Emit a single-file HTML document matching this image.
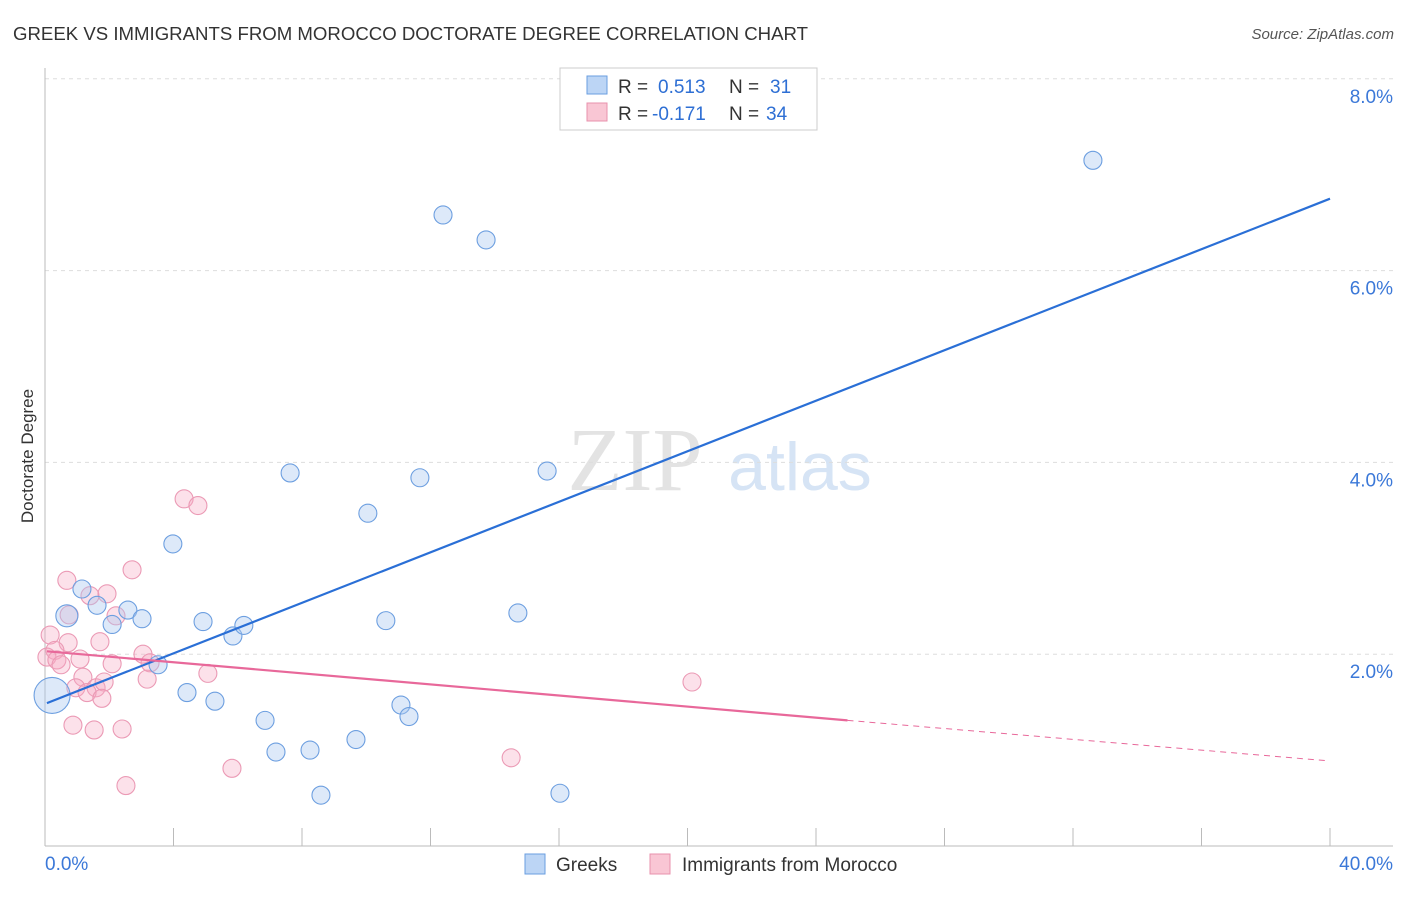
<!DOCTYPE html>
<html><head><meta charset="utf-8"><style>
body{margin:0;background:#fff;font-family:"Liberation Sans",sans-serif;}
</style></head><body>
<svg width="1406" height="892" xmlns="http://www.w3.org/2000/svg" font-family="Liberation Sans, sans-serif">
<text x="13" y="40" font-size="18" fill="#333" textLength="795" lengthAdjust="spacingAndGlyphs">GREEK VS IMMIGRANTS FROM MOROCCO DOCTORATE DEGREE CORRELATION CHART</text>
<text x="1394" y="39" font-size="15" fill="#555" text-anchor="end" font-style="italic">Source: ZipAtlas.com</text>
<g>
<text x="635" y="490" font-size="90" font-family="Liberation Serif, serif" fill="#e3e3e3" text-anchor="middle">ZIP</text>
<text x="800" y="490" font-size="68" fill="#d6e4f5" text-anchor="middle">atlas</text>
</g>
<g id="grid"></g>
<g id="axes"></g>
<text transform="translate(33,456) rotate(-90)" font-size="17" fill="#333" text-anchor="middle">Doctorate Degree</text>
<g id="marks"></g>
<g>
<rect x="560" y="68" width="257" height="62" fill="#fff" stroke="#ccc"/>
<rect x="587" y="76" width="20" height="18" fill="#bcd5f5" stroke="#6a9ee0"/>
<rect x="587" y="103" width="20" height="18" fill="#f9c6d4" stroke="#e891ad"/>
<text x="618" y="93" font-size="19" fill="#333">R =</text>
<text x="658" y="93" font-size="19" fill="#2e6fd4">0.513</text>
<text x="729" y="93" font-size="19" fill="#333">N =</text>
<text x="770" y="93" font-size="19" fill="#2e6fd4">31</text>
<text x="618" y="120" font-size="19" fill="#333">R =</text>
<text x="652" y="120" font-size="19" fill="#2e6fd4">-0.171</text>
<text x="729" y="120" font-size="19" fill="#333">N =</text>
<text x="766" y="120" font-size="19" fill="#2e6fd4">34</text>
</g>
<g>
<rect x="525" y="854" width="20" height="20" fill="#bcd5f5" stroke="#6a9ee0"/>
<text x="556" y="871" font-size="19" fill="#333">Greeks</text>
<rect x="650" y="854" width="20" height="20" fill="#f9c6d4" stroke="#e891ad"/>
<text x="682" y="871" font-size="19" fill="#333">Immigrants from Morocco</text>
</g>
</svg>
<script>
const yTicks=[2,4,6,8];
const yTickLabels=["2.0%","4.0%","6.0%","8.0%"];
const xTicks=[0,4,8,12,16,20,24,28,32,36,40];
const greekX=[32.62,12.39,13.73,15.63,11.67,7.63,10.05,3.98,1.15,0.68,1.62,2.58,2.09,3.02,4.92,5.85,6.19,10.61,14.72,3.52,4.42,5.29,6.85,11.08,11.33,7.19,8.25,9.68,8.59,16.03,0.22];
const greekY=[7.15,6.58,6.32,3.91,3.84,3.89,3.47,3.15,2.68,2.40,2.51,2.46,2.31,2.37,2.34,2.19,2.30,2.35,2.43,1.89,1.60,1.51,1.31,1.47,1.35,0.98,1.00,1.11,0.53,0.55,1.57];
const greekR=[9,9,9,9,9,9,9,9,9,11,9,9,9,9,9,9,9,9,9,9,9,9,9,9,9,9,9,9,9,9,18];
const morX=[0.68,2.71,4.33,4.76,1.40,1.93,2.21,0.75,0.16,0.72,1.71,0.31,0.06,0.37,1.09,0.50,3.05,2.09,3.27,1.18,3.18,5.07,0.96,1.59,1.84,1.31,1.77,0.87,1.53,2.40,5.82,2.52,14.51,20.14];
const morY=[2.77,2.88,3.62,3.55,2.61,2.63,2.40,2.41,2.20,2.12,2.13,2.04,1.97,1.94,1.95,1.89,2.00,1.90,1.91,1.76,1.74,1.80,1.65,1.65,1.71,1.60,1.54,1.26,1.21,1.22,0.81,0.63,0.92,1.71];
const greekTrendX=[0.06,40];
const greekTrendY=[1.49,6.75];
const morTrendX=[0.06,24.98,39.88];
const morTrendY=[2.03,1.31,0.89];
const NS="http://www.w3.org/2000/svg";
const xs=v=>45+v/40*1285, ys=v=>846-v*95.9;
function mk(tag,attrs,parent){const e=document.createElementNS(NS,tag);for(const k in attrs)e.setAttribute(k,attrs[k]);document.getElementById(parent).appendChild(e);return e;}
yTicks.forEach((t,i)=>{
 const l=mk('line',{x1:45,x2:1393,y1:ys(t),y2:ys(t),stroke:'#ddd','stroke-dasharray':'4,4'},'grid');
 
 
 const tx=mk('text',{x:1393,y:ys(t)+24,'font-size':19,fill:'#3b78d8','text-anchor':'end'},'grid');
 tx.textContent=yTickLabels[i];
 
 
});
let a=mk('line',{x1:45,x2:45,y1:68,y2:846,stroke:'#bbb'},'axes');


a=mk('line',{x1:45,x2:1393,y1:846,y2:846,stroke:'#bbb'},'axes');


xTicks.forEach(t=>{const l=mk('line',{x1:xs(t),x2:xs(t),y1:828,y2:846,stroke:'#bbb'},'axes');
 
 });
let t=mk('text',{x:45,y:870,'font-size':19,fill:'#3b78d8'},'axes');t.textContent='0.0%';


t=mk('text',{x:1393,y:870,'font-size':19,fill:'#3b78d8','text-anchor':'end'},'axes');t.textContent='40.0%';


morX.forEach((x,i)=>{const c=mk('circle',{cx:xs(x),cy:ys(morY[i]),r:9,fill:'rgba(246,170,195,0.35)',stroke:'#eb9ab5','stroke-width':1.1},'marks');
 
 });
greekX.forEach((x,i)=>{const c=mk('circle',{cx:xs(x),cy:ys(greekY[i]),r:greekR[i],fill:'rgba(170,200,240,0.4)',stroke:'#6d9fe0','stroke-width':1.1},'marks');
 
 });
let ln=mk('line',{x1:xs(greekTrendX[0]),y1:ys(greekTrendY[0]),x2:xs(greekTrendX[1]),y2:ys(greekTrendY[1]),stroke:'#2a6fd6','stroke-width':2.2},'marks');


ln=mk('line',{x1:xs(morTrendX[0]),y1:ys(morTrendY[0]),x2:xs(morTrendX[1]),y2:ys(morTrendY[1]),stroke:'#e8689a','stroke-width':2.2},'marks');


ln=mk('line',{x1:xs(morTrendX[1]),y1:ys(morTrendY[1]),x2:xs(morTrendX[2]),y2:ys(morTrendY[2]),stroke:'#e8689a','stroke-width':1,'stroke-dasharray':'6,5'},'marks');


</script>
</body></html>
